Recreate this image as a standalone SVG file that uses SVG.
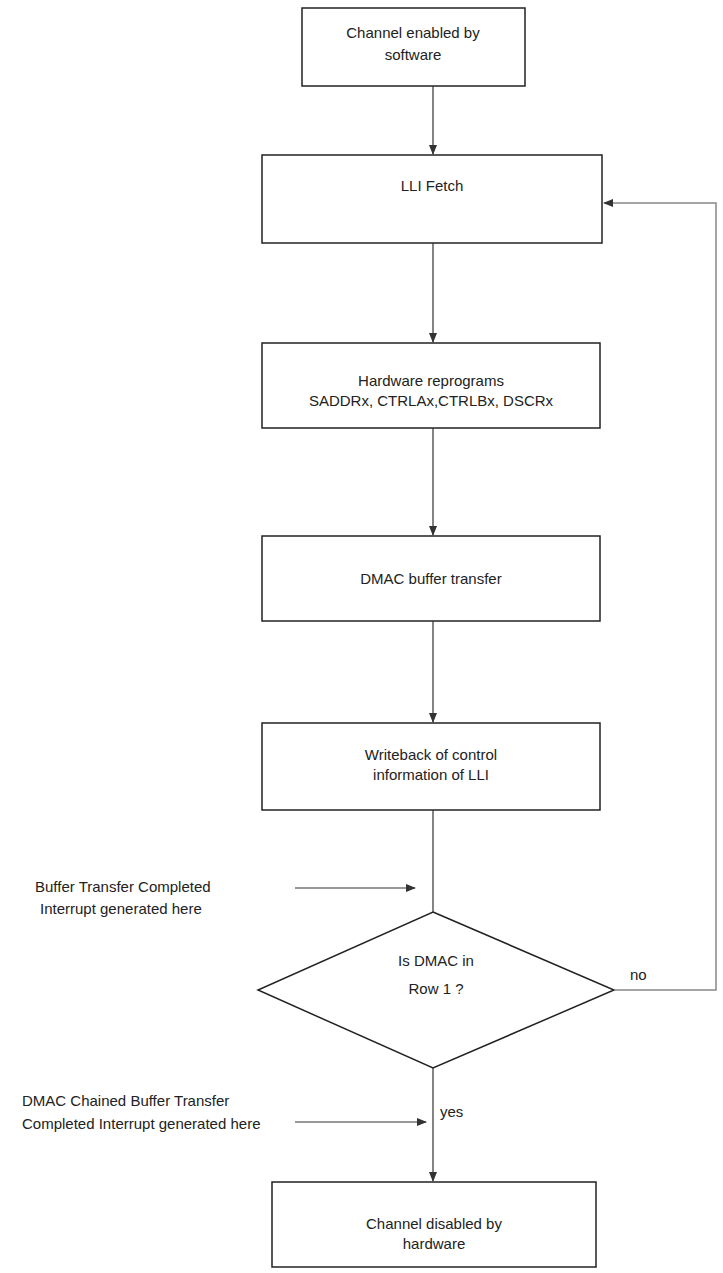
<svg xmlns="http://www.w3.org/2000/svg" width="723" height="1273" viewBox="0 0 723 1273">
<style>
.b{fill:#fff;stroke:#222;stroke-width:1.5}
.t{font-family:"Liberation Sans",Arial,sans-serif;font-size:15px;fill:#222}
.c{text-anchor:middle}
.l{stroke:#333;stroke-width:1.2;fill:none}
.g{stroke:#888;stroke-width:1.5;fill:none}
</style>
<defs><marker id="a" markerWidth="10" markerHeight="8" refX="9" refY="4" orient="auto" markerUnits="userSpaceOnUse"><path d="M0,0 L10,4 L0,8 Z" fill="#333"/></marker></defs>
<rect width="723" height="1273" fill="#fff"/>
<g id="n1"><rect class="b" x="302" y="8" width="223" height="78"/><text class="t c" x="413" y="38">Channel enabled by</text><text class="t c" x="413" y="60">software</text></g>
<g id="n2"><rect class="b" x="262" y="155" width="340" height="88"/><text class="t c" x="432" y="191">LLI Fetch</text></g>
<g id="n3"><rect class="b" x="262" y="343" width="338" height="85"/><text class="t c" x="431" y="386">Hardware reprograms</text><text class="t c" x="431" y="406">SADDRx, CTRLAx,CTRLBx, DSCRx</text></g>
<g id="n4"><rect class="b" x="262" y="536" width="338" height="85"/><text class="t c" x="431" y="584">DMAC buffer transfer</text></g>
<g id="n5"><rect class="b" x="262" y="723" width="338" height="87"/><text class="t c" x="431" y="760">Writeback of control</text><text class="t c" x="431" y="780">information of LLI</text></g>
<g id="n6"><path class="b" d="M433,912 L614,990 L433,1068 L258,990 Z"/><text class="t c" x="436" y="966">Is DMAC in</text><text class="t c" x="436" y="994">Row 1 ?</text></g>
<g id="n7"><rect class="b" x="272" y="1182" width="324" height="85"/><text class="t c" x="434" y="1229">Channel disabled by</text><text class="t c" x="434" y="1249">hardware</text></g>
<g id="labels">
<text class="t" x="35" y="892">Buffer Transfer Completed</text>
<text class="t" x="40" y="914">Interrupt generated here</text>
<text class="t" x="22" y="1106">DMAC Chained Buffer Transfer</text>
<text class="t" x="22" y="1129">Completed Interrupt generated here</text>
<text class="t" x="630" y="980">no</text>
<text class="t" x="440" y="1117">yes</text>
</g>
<g id="connectors">
<line class="l" x1="433" y1="86" x2="433" y2="154" marker-end="url(#a)"/>
<line class="l" x1="433" y1="243" x2="433" y2="342" marker-end="url(#a)"/>
<line class="l" x1="433" y1="428" x2="433" y2="535" marker-end="url(#a)"/>
<line class="l" x1="433" y1="621" x2="433" y2="722" marker-end="url(#a)"/>
<line class="l" x1="433" y1="810" x2="433" y2="912"/>
<line class="l" x1="433" y1="1068" x2="433" y2="1181" marker-end="url(#a)"/>
<line class="l" x1="295" y1="888" x2="415" y2="888" marker-end="url(#a)"/>
<line class="l" x1="295" y1="1122" x2="426" y2="1122" marker-end="url(#a)"/>
<path class="g" d="M614,990 H716 V203 H604" marker-end="url(#a)"/>
</g>
</svg>
